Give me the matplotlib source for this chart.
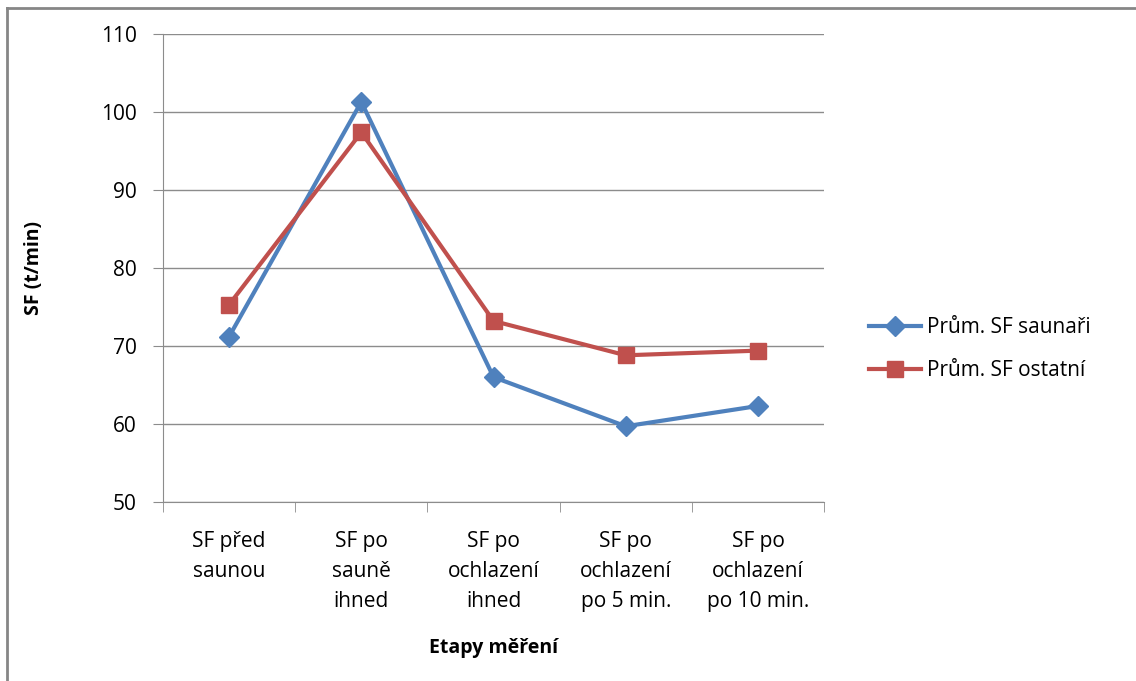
import numpy as np
import matplotlib.pyplot as plt
from matplotlib.lines import Line2D

plt.rcParams['font.family'] = ['Open Sans', 'DejaVu Sans']

# Data
kategorie = ['SF před\nsaunou', 'SF po\nsauně\nihned', 'SF po\nochlazení\nihned',
             'SF po\nochlazení\npo 5 min.', 'SF po\nochlazení\npo 10 min.']
saunari = [71.2, 101.3, 66.0, 59.7, 62.3]
ostatni = [75.3, 97.4, 73.2, 68.8, 69.4]
y_ticks = [50, 60, 70, 80, 90, 100, 110]

fig = plt.figure(figsize=(11.36, 6.81), dpi=100)
ax = fig.add_axes([0.1435, 0.263, 0.5819, 0.687])

x = np.arange(len(kategorie))
ax.plot(x, saunari, '-D', color='#4F81BD', lw=3, ms=10, label='Prům. SF saunaři')
ax.plot(x, ostatni, '-s', color='#C0504D', lw=3, ms=12, label='Prům. SF ostatní')

ax.set_xlim(-0.5, len(kategorie) - 0.5)
ax.set_ylim(50, 110)
ax.set_yticks(y_ticks)
ax.yaxis.grid(True, color='#8C8C8C', lw=1)
ax.set_axisbelow(True)

ax.set_xticks(x)
ax.set_xticklabels(kategorie, fontsize=15, linespacing=1.55, va='top')
ax.set_xticks(np.arange(len(kategorie) + 1) - 0.5, minor=True)
ax.tick_params(axis='x', which='major', length=0, pad=21)
ax.tick_params(axis='x', which='minor', length=7, color='#8C8C8C')
ax.tick_params(axis='y', length=7, color='#8C8C8C', labelsize=15, pad=12)

for s in ['top', 'right']:
    ax.spines[s].set_visible(False)
for s in ['left', 'bottom']:
    ax.spines[s].set_color('#8C8C8C')

ax.set_ylabel('SF (t/min)', fontsize=14, fontweight='bold', labelpad=41)
ax.set_xlabel('Etapy měření', fontsize=14, fontweight='bold', labelpad=19)

ax.legend(loc='center left', bbox_to_anchor=(1.04, 0.327), frameon=False,
          fontsize=15, handlelength=2.5, handletextpad=0.25, labelspacing=1.05)

# ramecek grafu (jen horni a leva hrana)
fig.add_artist(Line2D([0.0062, 1.0], [0.988, 0.988], transform=fig.transFigure,
                      color='#868686', lw=2))
fig.add_artist(Line2D([0.0062, 0.0062], [0.0, 0.988], transform=fig.transFigure,
                      color='#868686', lw=2))

fig.savefig('out.png', dpi=100)
